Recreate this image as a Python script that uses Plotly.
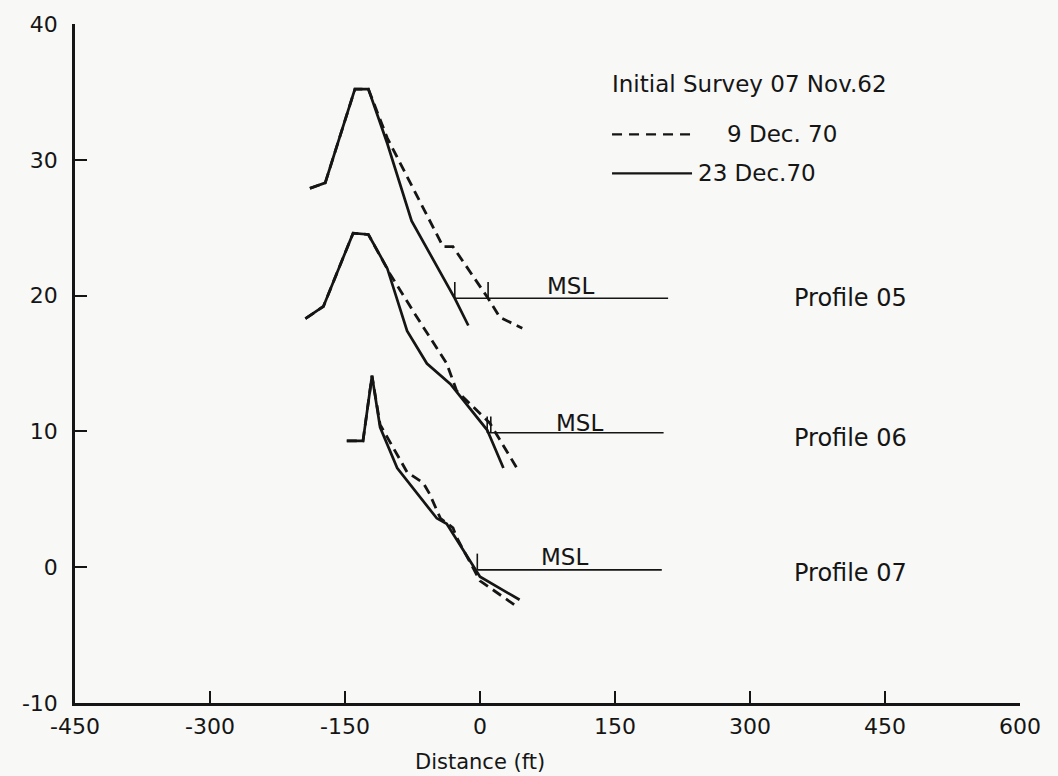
import plotly.graph_objects as go

# ---- Data ----
# Profile 05
p05_dash_x = [-189, -172, -139, -124, -103, -41, -30, 9, 22, 47]
p05_dash_y = [27.9, 28.3, 35.2, 35.2, 31.6, 23.6, 23.6, 19.8, 18.4, 17.6]
p05_solid_x = [-189, -172, -139, -124, -103, -76, -28, -13]
p05_solid_y = [27.9, 28.3, 35.2, 35.2, 31.2, 25.5, 19.8, 17.8]
# Profile 06
p06_dash_x = [-194, -174, -141, -124, -100, -70, -37, -26, 11, 41]
p06_dash_y = [18.3, 19.2, 24.6, 24.5, 21.6, 18.4, 15.0, 13.0, 10.6, 7.3]
p06_solid_x = [-194, -174, -141, -124, -103, -81, -59, -33, 8, 26]
p06_solid_y = [18.3, 19.2, 24.6, 24.5, 22.0, 17.4, 15.0, 13.5, 10.1, 7.3]
# Profile 07
p07_dash_x = [-148, -130, -120, -111, -81, -63, -56, -44, -30, -26, 0, 41]
p07_dash_y = [9.3, 9.3, 14.1, 10.5, 7.0, 6.2, 5.4, 3.6, 2.9, 2.2, -1.0, -2.9]
p07_solid_x = [-148, -130, -120, -111, -92, -48, -37, 0, 44]
p07_solid_y = [9.3, 9.3, 14.1, 10.3, 7.3, 3.6, 3.2, -0.7, -2.4]

# MSL lines
msl_level = [19.8, 9.9, -0.2]
msl_start = [-28, 8, -3]
msl_end = [209, 204, 202]
msl_ticks = [[-28, 9], [8, 12], [-3]]
msl_label_x = [101, 111, 94]
msl_label_y = [20.7, 10.65, 0.75]
profile_names = ["Profile 05", "Profile 06", "Profile 07"]
profile_label_y = [19.8, 9.5, -0.4]

x_ticks = [-450, -300, -150, 0, 150, 300, 450, 600]
y_ticks = [-10, 0, 10, 20, 30, 40]

FONT = "DejaVu Sans"
INK = "#151515"
BG = "#f8f8f6"

fig = go.Figure()

profiles = [
    (p05_dash_x, p05_dash_y, p05_solid_x, p05_solid_y),
    (p06_dash_x, p06_dash_y, p06_solid_x, p06_solid_y),
    (p07_dash_x, p07_dash_y, p07_solid_x, p07_solid_y),
]
for dx, dy, sx, sy in profiles:
    fig.add_trace(go.Scatter(x=sx, y=sy, mode="lines",
                             line=dict(color=INK, width=2.7), showlegend=False))
    fig.add_trace(go.Scatter(x=dx, y=dy, mode="lines",
                             line=dict(color=INK, width=2.8, dash="10px,6px"),
                             showlegend=False))

for i in range(3):
    lvl, x0, x1 = msl_level[i], msl_start[i], msl_end[i]
    fig.add_trace(go.Scatter(x=[x0, x1], y=[lvl, lvl], mode="lines",
                             line=dict(color=INK, width=1.6), showlegend=False))
    for t in msl_ticks[i]:
        fig.add_trace(go.Scatter(x=[t, t], y=[lvl, lvl + 1.2], mode="lines",
                                 line=dict(color=INK, width=1.6), showlegend=False))
    fig.add_annotation(x=msl_label_x[i], y=msl_label_y[i], text="MSL", showarrow=False,
                       font=dict(family=FONT, size=23, color=INK), yanchor="middle")
    fig.add_annotation(x=412, y=profile_label_y[i], text=profile_names[i], showarrow=False,
                       xanchor="center", yanchor="middle",
                       font=dict(family=FONT, size=24, color=INK))

# legend (manual)
fig.add_annotation(x=144.5, y=35.6, text="Initial Survey 07 Nov.62", showarrow=False,
                   xanchor="left", yanchor="middle", font=dict(family=FONT, size=23, color=INK))
fig.add_shape(type="line", x0=146.7, x1=241, y0=31.87, y1=31.87,
              line=dict(color=INK, width=2.2, dash="10px,7px"))
fig.add_annotation(x=272, y=31.87, text="9 Dec. 70", showarrow=False,
                   xanchor="left", yanchor="middle", font=dict(family=FONT, size=23, color=INK))
fig.add_shape(type="line", x0=146.7, x1=235.6, y0=29.0, y1=29.0,
              line=dict(color=INK, width=2.2))
fig.add_annotation(x=240, y=29.0, text="23 Dec.70", showarrow=False,
                   xanchor="left", yanchor="middle", font=dict(family=FONT, size=23, color=INK))

fig.add_annotation(x=0, y=-0.087, xref="x", yref="paper", text="Distance (ft)",
                   showarrow=False, yanchor="middle",
                   font=dict(family=FONT, size=21, color=INK))

fig.update_xaxes(range=[-450, 600], tickvals=x_ticks, ticktext=[str(v) for v in x_ticks],
                 showgrid=False, zeroline=False, showline=True, linecolor=INK, linewidth=2.5,
                 ticks="inside", ticklen=12, tickwidth=1.5, tickcolor=INK, ticklabelstandoff=2,
                 tickfont=dict(family=FONT, size=22, color=INK))
fig.update_yaxes(range=[-10, 40], tickvals=y_ticks, ticktext=["-10", "0", "10", "20", "30", "40"],
                 showgrid=False, zeroline=False, showline=True, linecolor=INK, linewidth=2.5,
                 ticks="inside", ticklen=12, tickwidth=1.5, tickcolor=INK, ticklabelstandoff=10,
                 tickfont=dict(family=FONT, size=22, color=INK))

fig.update_layout(width=1058, height=776, margin=dict(l=75, r=38, t=22, b=73),
                  paper_bgcolor=BG, plot_bgcolor=BG, showlegend=False)

fig.write_html("out.html", config={"displayModeBar": False},
               post_script="document.body.style.margin='0';document.body.style.overflow='hidden';")
